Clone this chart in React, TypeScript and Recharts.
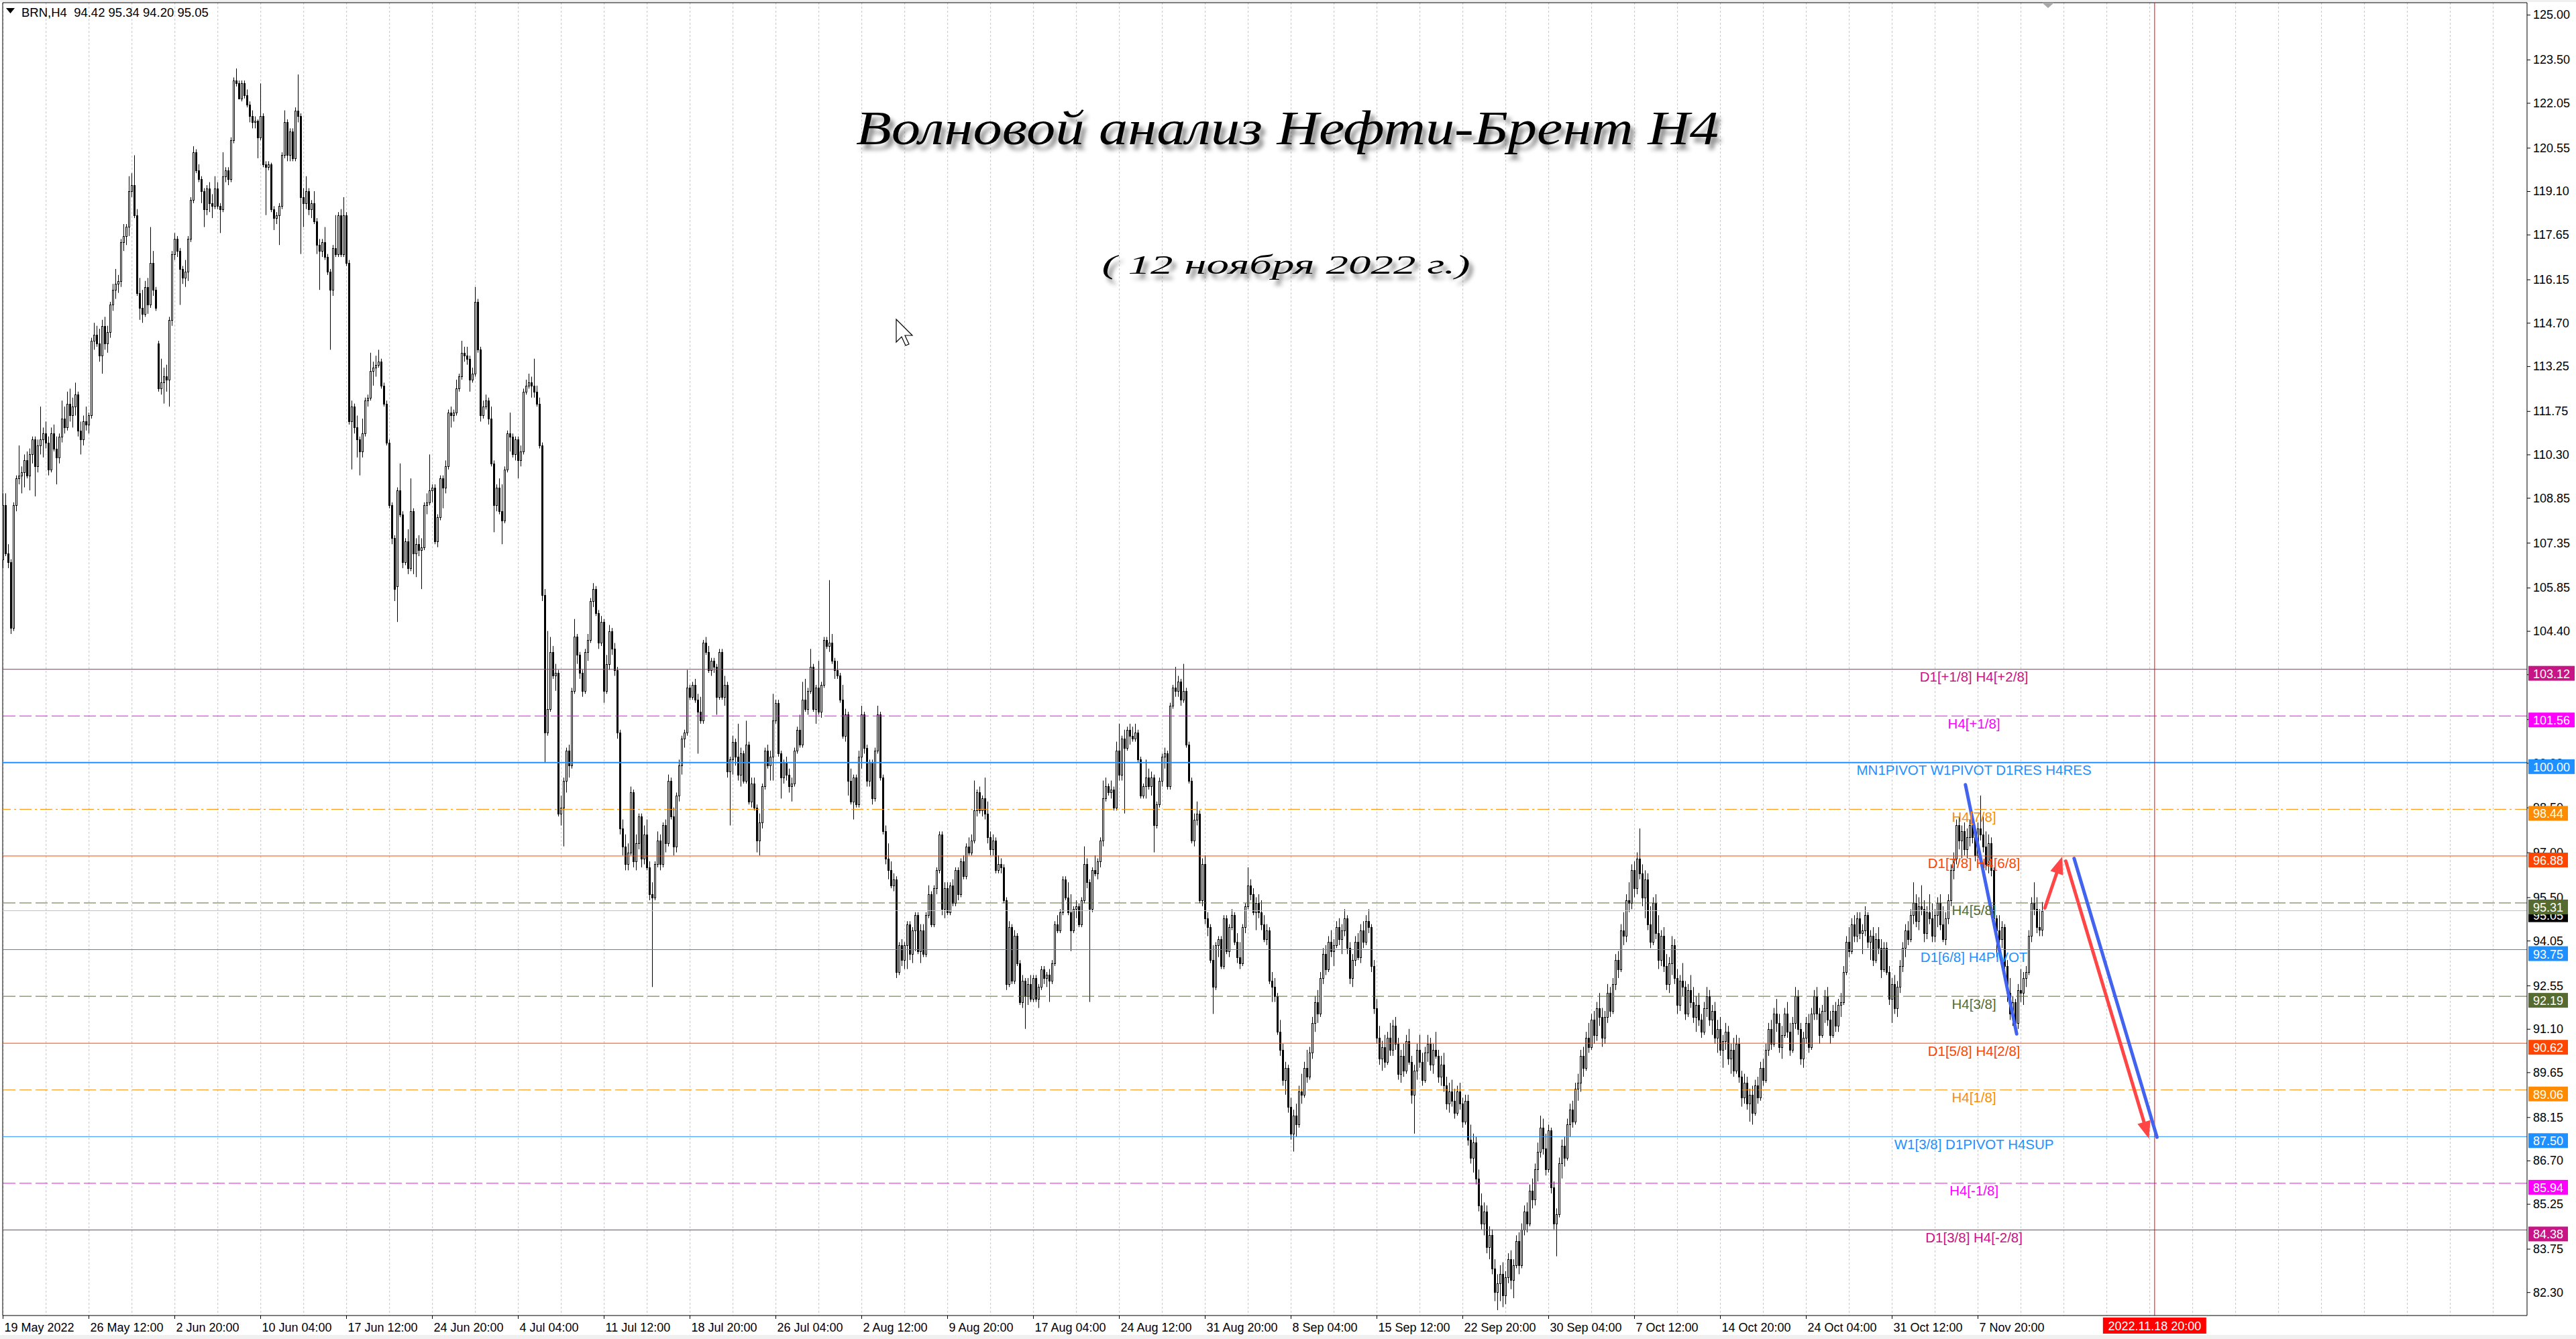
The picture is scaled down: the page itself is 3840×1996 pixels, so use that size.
import React from "react";
import { ComposedChart, Bar, XAxis, YAxis, CartesianGrid, ReferenceLine, ReferenceDot } from "recharts";

// ---------------- data: BRN H4 candles [open, high, low, close] ----------------
const ohlcMayJun: number[][] = [
  [106.8,109.0,106.5,108.6],[108.6,109.0,106.9,107.0],[107.0,107.3,106.5,106.7],[106.7,106.8,104.3,104.5],[104.5,108.7,104.4,108.6],
  [108.6,109.6,108.4,109.5],[109.5,110.6,109.3,109.6],[109.6,109.9,109.0,109.7],[109.7,110.3,109.2,110.1],[110.1,110.4,109.5,109.6],
  [109.6,110.5,109.1,110.3],[110.3,110.9,110.0,110.8],[110.8,110.9,108.9,109.9],[109.9,110.8,109.7,110.6],[110.6,111.9,110.3,110.8],
  [110.8,111.2,110.2,111.0],[111.0,111.4,110.5,110.7],[110.7,110.9,109.6,109.8],[109.8,111.2,109.7,111.0],[111.0,111.3,110.4,110.5],
  [110.5,110.9,109.3,110.2],[110.2,111.0,110.0,110.9],[110.9,112.1,110.7,111.5],[111.5,111.9,111.0,111.2],[111.2,112.4,111.1,112.0],
  [112.0,112.5,111.4,111.6],[111.6,112.2,111.2,111.9],[111.9,112.7,111.6,112.3],[112.3,112.4,110.9,111.1],[111.1,111.4,110.3,110.8],
  [110.8,111.6,110.6,111.4],[111.4,111.9,111.1,111.3],[111.3,111.7,111.0,111.6],[111.6,114.2,111.5,114.1],[114.1,114.7,113.8,114.3],
  [114.3,114.6,113.9,114.0],[114.0,114.5,113.4,113.6],[113.6,114.8,113.0,114.6],[114.6,114.9,113.8,114.0],[114.0,114.6,113.7,114.4],
  [114.4,115.4,114.2,115.3],[115.3,116.0,115.1,115.8],[115.8,116.5,115.5,116.0],[116.0,116.3,115.7,116.1],[116.1,117.5,115.9,117.4],
  [117.4,118.0,117.1,117.6],[117.6,118.0,117.3,117.9],[117.9,119.6,117.6,119.1],[119.1,119.7,118.9,119.3],[119.3,120.3,118.2,118.3],
  [118.3,118.5,115.6,115.7],[115.7,116.2,114.8,115.2],[115.2,115.8,114.7,115.0],[115.0,116.1,114.9,115.9],[115.9,116.2,115.0,115.3],
  [115.3,117.9,115.2,116.7],[116.7,117.1,115.6,115.8],[115.8,115.9,115.1,115.2],[114.0,114.1,112.4,112.5],[112.5,113.5,112.3,112.7],
  [112.7,113.2,112.0,112.9],[112.9,113.3,112.4,112.8],[112.8,114.9,111.9,114.8],[114.8,117.1,114.6,117.0],[117.0,117.7,116.8,117.5],
  [117.5,117.6,116.9,117.1],[117.1,117.2,115.3,116.5],[116.5,116.6,116.0,116.2],[116.2,116.8,115.9,116.4],[116.4,117.6,116.1,117.5],
  [117.5,118.9,117.4,118.8],[118.8,120.6,118.7,120.4],[120.4,120.5,119.7,119.8],[119.8,120.0,119.4,119.5],[119.5,119.6,118.7,119.1],
  [119.1,119.2,117.9,118.5],[118.5,119.3,118.3,119.2],[119.2,119.4,118.4,118.7],[118.7,119.0,118.2,118.6],[118.6,119.6,118.5,119.2],
  [119.2,119.4,118.5,118.6],[118.6,118.7,117.7,118.5],[118.5,120.4,118.4,119.6],[119.6,119.9,119.4,119.8],[119.8,119.9,119.3,119.5],
  [119.5,120.9,119.4,120.8],[120.8,122.9,120.7,122.8],[122.8,123.2,122.6,122.7],[122.7,122.8,122.2,122.2],[122.2,122.8,122.1,122.7],
  [122.7,122.8,122.2,122.3],[122.3,122.5,121.9,122.0],[122.0,122.1,121.4,121.6],[121.6,121.8,121.2,121.4],[121.4,121.6,121.2,121.45],
  [121.45,121.5,120.2,120.9],[120.9,122.7,120.8,121.6],[121.6,121.7,119.9,120.0],[120.0,120.1,118.3,119.9],[119.9,120.1,119.8,120.0],
  [120.0,120.05,118.4,118.5],[118.5,118.6,117.8,118.2],[118.2,118.4,118.0,118.3],[118.3,118.7,117.3,118.6],[118.6,120.4,118.5,120.3],
  [120.3,121.8,120.2,121.4],[121.4,121.5,120.1,120.3],[120.3,121.2,120.1,121.1],[121.1,121.2,120.1,120.2],[120.2,121.9,120.1,121.8],
  [121.8,123.0,121.4,121.6],[121.6,121.7,117.0,118.9],[118.9,119.2,117.9,118.7],[118.7,119.6,118.5,119.1],[119.1,119.2,118.3,118.5],
  [118.5,118.8,118.2,118.7],[118.7,119.1,118.0,118.1],[118.1,118.2,117.0,117.3],[117.3,117.5,115.8,117.1],[117.1,117.5,116.9,117.4],
  [117.4,117.9,116.8,116.9],[116.9,117.0,116.3,116.4],[116.4,116.5,113.8,115.8],[115.8,117.3,115.6,117.2],[117.2,118.3,116.9,117.0],
  [117.0,118.4,116.9,118.3],[118.3,118.5,116.9,117.0],[117.0,118.9,116.9,118.3],[118.3,118.4,116.6,116.7],[116.7,116.8,111.3,111.4],
  [111.4,112.1,109.8,111.9],[111.9,112.0,111.0,111.2],[111.2,111.6,110.2,110.8],[110.8,110.9,109.6,110.4],[110.4,111.5,110.2,111.0],
  [111.0,112.2,110.9,112.1],[112.1,112.3,111.9,112.2],[112.2,113.7,112.1,113.1],[113.1,113.4,112.6,113.2],[113.2,113.6,112.9,113.3],
  [113.3,113.8,113.2,113.4],[113.4,113.5,112.5,112.6],[112.6,112.7,111.9,112.0],[112.0,112.1,110.6,110.7],[110.7,110.8,108.5,108.6],
  [108.6,108.7,107.3,107.5],[107.5,107.6,105.4,105.8],[105.9,109.2,104.7,109.1],[109.1,110.0,108.2,108.3],[108.3,108.4,106.5,106.7],
  [106.7,107.5,106.6,107.4],[107.4,107.8,106.3,106.5],[106.5,109.5,106.4,108.4],[108.4,108.5,106.3,107.0],[107.0,107.5,106.2,107.3],
  [107.3,107.6,106.9,107.1],[107.1,107.5,105.8,107.2],[107.2,108.7,107.1,108.6],[108.6,109.0,108.3,108.7],[108.7,110.3,108.6,109.1],
  [109.1,109.3,108.7,109.2],[109.2,109.3,107.3,107.4],[107.4,108.3,107.2,108.2],[108.2,109.6,108.1,109.5],[109.5,109.6,108.5,109.2],
  [109.2,110.1,109.0,109.9],[109.9,111.8,109.8,111.7],[111.7,111.9,111.2,111.6],[111.6,111.8,111.4,111.7],[111.7,112.8,111.6,112.5],
  [112.5,113.0,112.4,112.9],[112.9,114.1,112.8,113.7],[113.7,113.9,113.4,113.6],[113.6,113.9,113.3,113.5],[113.5,113.6,112.4,112.8],
  [112.8,113.2,112.7,113.0],[113.0,115.9,112.9,115.4],[115.4,115.5,113.7,113.8],[113.8,113.9,111.4,111.6],[111.6,112.1,111.5,111.9],
  [111.9,112.3,111.8,112.1],[112.1,112.2,111.3,111.5],[111.5,111.9,109.9,110.0],[110.0,110.1,107.7,108.6],[108.6,109.3,108.4,109.2],
  [109.2,109.5,108.3,108.4],[108.4,109.3,107.3,108.1],[108.1,109.9,108.0,109.8],[109.8,111.1,109.7,111.0],[111.0,111.7,110.4,110.9],
  [110.9,111.0,110.2,110.3],[110.3,110.9,110.1,110.8],[110.8,110.9,109.5,110.1],[110.1,110.6,109.9,110.4],[110.4,112.5,110.3,112.4],
  [112.4,112.8,112.3,112.6],[112.6,113.0,112.5,112.7],[112.7,112.9,112.2,112.6],[112.6,113.5,112.2,112.4],[112.4,112.6,111.9,112.0],
  [112.0,112.2,110.5,110.6],[110.6,110.7,105.4,105.6],[105.6,105.8,100.0,101.0],
];

const ohlcJulAug: number[][] = [
  [101.0,104.4,100.9,101.8],[101.8,104.2,101.7,103.7],[103.7,103.9,102.8,102.9],[102.9,103.3,102.4,103.0],[103.0,103.1,98.2,98.3],
  [98.3,98.9,97.9,98.5],[98.5,99.5,97.2,99.4],[99.4,100.5,99.0,100.4],[100.4,100.6,99.5,99.9],[99.9,102.5,99.8,102.4],
  [102.4,104.8,102.3,104.2],[104.2,104.3,103.3,103.6],[103.6,103.7,102.8,103.0],[103.0,103.1,102.2,102.4],[102.4,103.8,102.3,103.7],
  [103.7,104.3,103.4,104.1],[104.1,105.5,104.0,105.4],[105.4,106.0,105.2,105.8],[105.8,105.9,104.9,105.0],[105.0,105.1,103.8,104.0],
  [104.0,104.9,103.9,104.7],[104.7,104.8,102.0,102.4],[102.4,103.6,102.3,103.3],[103.3,104.6,103.1,104.4],[104.4,104.5,103.6,103.8],
  [103.8,104.0,102.9,103.1],[103.1,103.2,100.8,101.0],[101.0,101.1,97.6,97.8],[97.8,98.1,96.9,97.2],[97.2,97.6,96.4,96.6],
  [96.6,97.3,96.4,97.0],[97.0,99.2,96.9,99.0],[99.0,99.1,96.5,96.7],[96.7,97.6,96.4,97.3],[97.3,98.3,97.1,98.2],
  [98.2,98.3,96.5,96.8],[96.8,97.9,96.6,97.6],[97.6,98.1,96.4,96.5],[96.5,96.7,95.4,95.6],[95.6,96.0,92.5,95.5],
  [95.5,96.7,95.4,96.6],[96.6,97.7,96.5,97.4],[97.4,97.6,96.4,96.6],[96.6,98.0,96.5,97.9],[97.9,98.1,97.0,97.3],
  [97.3,99.6,97.2,99.4],[99.4,99.5,98.1,98.2],[98.2,98.5,96.9,97.2],[97.2,99.0,97.0,98.9],[98.9,100.1,98.7,99.9],
  [99.9,100.9,99.6,100.8],[100.8,101.1,100.5,101.0],[101.0,103.1,100.9,102.5],[102.5,102.6,102.1,102.2],[102.2,102.7,102.1,102.6],
  [102.6,102.8,102.0,102.1],[102.1,102.3,100.3,101.7],[101.7,102.2,101.3,101.4],[101.4,104.1,101.3,104.0],[104.0,104.2,103.6,103.7],
  [103.7,103.9,103.0,103.1],[103.1,103.5,102.9,103.4],[103.4,103.5,103.0,103.2],[103.2,103.3,101.6,102.2],[102.2,103.8,102.1,103.7],
  [103.7,103.8,102.1,102.2],[102.2,102.9,101.9,102.6],[102.6,102.7,99.5,99.7],[99.7,100.2,97.9,100.1],[100.1,100.9,99.6,100.7],
  [100.7,100.8,99.9,100.2],[100.2,101.3,99.4,99.6],[99.6,100.5,99.2,100.3],[100.3,100.4,99.3,99.4],[99.4,101.4,99.3,100.6],
  [100.6,100.7,98.6,98.7],[98.7,99.5,98.5,99.3],[99.3,99.5,98.4,98.5],[98.5,98.6,97.0,97.4],[97.4,98.3,96.9,98.0],
  [98.0,99.3,97.8,99.2],[99.2,100.5,99.1,100.4],[100.4,100.6,99.8,99.9],[99.9,100.4,99.4,100.2],[100.2,102.3,99.4,101.4],
  [101.4,102.1,101.3,102.0],[102.0,102.1,100.2,100.3],[100.3,100.4,98.8,99.5],[99.5,100.1,99.3,100.0],[100.0,100.2,99.4,99.6],
  [99.6,99.8,99.0,99.2],[99.2,99.5,98.7,99.3],[99.3,100.5,99.2,100.4],[100.4,101.2,100.3,101.1],[101.1,101.6,100.5,100.6],
  [100.6,102.7,100.5,102.1],[102.1,102.8,101.7,101.8],[101.8,102.5,101.6,102.4],[102.4,103.8,102.3,103.2],[103.2,103.3,101.7,101.8],
  [101.8,102.6,101.3,102.5],[102.5,103.4,101.6,101.7],[101.7,102.7,101.5,102.6],[102.6,104.2,102.5,104.1],[104.1,104.2,103.8,103.9],
  [103.9,106.1,103.7,104.0],[104.0,104.3,103.3,103.4],[103.4,103.5,102.8,103.1],[103.1,103.4,102.8,102.9],[102.9,103.0,102.0,102.1],
  [102.1,102.6,100.8,100.9],[100.9,101.8,100.7,101.6],[101.6,101.7,98.9,99.4],[99.4,99.8,98.6,98.7],[98.7,99.6,98.1,99.5],
  [99.5,99.6,98.5,98.6],[98.6,100.4,98.5,100.2],[100.2,101.9,99.8,101.6],[101.6,101.7,100.3,100.5],[100.5,100.6,99.2,99.4],
  [99.4,100.1,99.2,100.0],[100.0,100.1,98.6,98.8],[98.8,100.5,98.7,100.4],[100.4,101.9,100.3,101.6],[101.6,101.7,99.4,99.5],
  [99.5,99.6,97.6,97.7],[97.7,97.9,96.6,96.8],[96.8,97.3,96.1,96.4],[96.4,96.7,95.8,95.9],[95.9,96.3,95.7,96.1],
  [96.1,96.2,92.8,93.0],[93.0,94.0,92.9,93.9],[93.9,94.1,93.2,93.4],[93.4,94.0,93.1,93.9],[93.9,94.7,93.1,94.6],
  [94.6,94.7,93.4,93.6],[93.6,94.5,93.3,94.4],[94.4,95.0,93.7,94.9],[94.9,95.0,93.6,93.7],[93.7,94.6,93.3,94.4],
  [94.4,94.6,93.5,93.6],[93.6,95.0,93.5,94.9],[94.9,95.9,94.8,95.6],[95.6,95.7,94.5,94.6],[94.6,95.9,94.5,95.8],
  [95.8,96.5,95.6,96.4],[96.4,97.7,96.3,97.6],[97.6,97.7,94.9,95.1],[95.1,96.0,94.8,95.8],[95.8,96.0,94.9,95.0],
  [95.0,96.0,94.9,95.9],[95.9,96.1,95.2,95.3],[95.3,96.5,95.2,96.4],[96.4,96.5,95.4,95.6],[95.6,96.8,95.5,96.7],
  [96.7,96.9,96.1,96.2],[96.2,97.3,96.1,97.2],[97.2,97.5,96.9,97.0],[97.0,97.6,96.9,97.4],[97.4,99.4,97.3,98.4],
  [98.4,99.1,98.2,99.0],[99.0,99.2,98.3,98.4],[98.4,98.9,98.2,98.8],[98.8,99.5,98.1,98.3],[98.3,98.7,97.3,97.5],
  [97.5,97.7,96.9,97.1],[97.1,97.6,96.9,97.4],[97.4,97.5,96.3,96.4],[96.4,96.9,96.3,96.6],[96.6,96.8,96.3,96.5],
  [96.5,96.6,95.3,95.4],[95.4,95.5,92.4,92.6],[92.6,94.7,92.5,94.5],[94.5,94.6,92.6,92.7],[92.7,94.4,92.6,94.2],
  [94.2,94.3,93.2,93.3],[93.3,93.4,91.9,92.0],[92.0,92.9,91.8,92.7],[92.7,92.8,91.1,92.2],[92.2,92.8,91.9,92.6],
  [92.6,92.9,92.0,92.1],[92.1,92.9,92.0,92.8],[92.8,92.9,92.0,92.1],[92.1,92.6,91.8,92.5],[92.5,93.2,92.4,93.1],
  [93.1,93.2,92.6,92.8],[92.8,93.0,92.5,92.9],[92.9,93.1,92.0,92.7],[92.7,93.4,92.6,93.3],[93.3,94.7,93.2,94.6],
  [94.6,94.9,94.3,94.4],[94.4,95.1,94.3,95.0],[95.0,96.2,94.9,96.1],[96.1,96.2,95.4,95.5],[95.5,96.0,94.9,95.0],
  [95.0,95.6,93.7,94.4],[94.4,95.2,94.3,95.1],[95.1,95.4,94.8,95.2],[95.2,95.3,94.5,94.6],[94.6,95.5,94.5,95.4],
  [95.4,97.2,95.3,96.6],[96.6,96.8,95.8,96.0],[96.0,96.1,92.0,95.1],[95.1,96.5,95.0,96.4],[96.4,96.9,96.2,96.3],
  [96.3,96.8,96.1,96.7],[96.7,97.5,96.5,97.4],[97.4,99.4,97.2,98.8],[98.8,99.5,98.7,99.2],[99.2,99.3,98.9,99.0],
  [99.0,99.4,98.8,99.1],[99.1,99.2,98.4,98.5],[98.5,100.7,98.4,100.4],[100.4,101.3,99.4,99.6],[99.6,100.9,99.4,100.8],
  [100.8,101.1,98.3,100.5],[100.5,101.2,100.4,101.1],[101.1,101.3,100.6,100.9],[100.9,101.2,100.7,100.8],[100.8,101.3,100.7,101.0],
  [101.0,101.1,100.0,100.1],[100.1,100.2,98.8,98.9],[98.9,99.3,98.8,99.2],[99.2,100.1,98.8,99.5],[99.5,99.8,99.1,99.2],
  [99.2,99.7,98.9,99.5],[99.5,99.6,97.0,97.9],[97.9,98.7,97.8,98.6],[98.6,99.5,98.5,99.4],[99.4,100.3,99.2,100.2],
  [100.2,100.5,99.8,100.3],[100.3,100.4,99.1,99.2],[99.2,102.0,99.1,101.9],[101.9,102.6,101.8,102.5],[102.5,103.2,102.2,102.4],
  [102.4,102.9,102.2,102.7],[102.7,102.8,101.9,102.1],[102.1,103.3,102.0,102.4],[102.4,102.5,100.5,100.6],[100.6,100.7,99.3,99.4],
  [99.4,99.5,97.3,97.4],[97.4,98.3,97.2,98.1],[98.1,98.7,97.9,98.3],[98.3,98.4,95.3,95.4],[95.4,96.8,95.2,96.6],
  [96.6,96.9,94.6,94.8],[94.8,95.0,94.2,94.5],[94.5,94.6,93.3,93.4],[93.4,93.9,91.6,92.5],[92.5,94.0,92.4,93.9],
  [93.9,94.2,93.5,94.1],[94.1,94.2,93.1,93.2],[93.2,94.9,93.1,94.8],[94.8,94.9,93.6,93.7],[93.7,94.6,93.5,94.5],
  [94.5,95.1,94.4,94.9],[94.9,95.0,93.9,94.0],[94.0,94.3,93.3,93.5],[93.5,94.0,93.1,93.3],[93.3,94.6,93.2,94.5],
  [94.5,95.3,94.3,95.2],[95.2,96.5,95.1,95.9],[95.9,96.1,95.4,95.6],[95.6,95.8,94.9,95.0],[95.0,95.5,94.4,95.3],
  [95.3,95.6,94.8,95.0],[95.0,95.4,94.4,94.6],[94.6,94.9,94.0,94.1],[94.1,94.6,93.9,94.4],[94.4,94.5,92.6,92.7],
  [92.7,93.0,92.0,92.5],[92.5,92.8,92.0,92.2],
];

const ohlcSepNov: number[][] = [
  [92.2,92.3,90.9,91.0],[91.0,91.4,90.2,90.4],[90.4,90.6,89.2,89.4],[89.4,90.0,88.9,89.8],[89.8,89.9,88.3,88.5],
  [88.5,88.8,87.4,87.6],[87.6,88.4,87.0,88.2],[88.2,88.6,87.5,87.9],[87.9,89.2,87.8,89.0],[89.0,89.6,88.6,88.9],
  [88.9,90.0,88.8,89.8],[89.8,90.4,89.3,89.5],[89.5,90.5,89.4,90.3],[90.3,91.5,90.1,91.3],[91.3,92.2,91.0,92.0],
  [92.0,92.4,91.3,91.6],[91.6,93.0,91.5,92.8],[92.8,93.8,92.6,93.6],[93.6,93.9,92.9,93.1],[93.1,94.2,93.0,94.0],
  [94.0,94.4,93.5,93.7],[93.7,94.1,93.2,93.9],[93.9,94.7,93.8,94.5],[94.5,94.8,93.9,94.1],[94.1,94.6,93.6,94.4],
  [94.4,95.1,94.2,94.8],[94.8,94.9,93.6,93.8],[93.8,94.0,92.6,92.8],[92.8,93.6,92.5,93.4],[93.4,94.2,93.2,94.0],
  [94.0,94.3,93.4,93.5],[93.5,94.6,93.3,94.4],[94.4,94.7,93.8,94.0],[94.0,94.9,93.9,94.7],[94.7,95.1,94.3,94.5],
  [94.5,94.6,93.0,93.2],[93.2,93.4,91.6,91.8],[91.8,92.1,90.6,90.8],[90.8,91.2,89.9,90.1],[90.1,90.7,89.7,90.5],
  [90.5,90.9,89.8,90.0],[90.0,91.0,89.9,90.8],[90.8,91.3,90.2,90.4],[90.4,91.4,90.2,91.2],[91.2,91.5,90.4,90.6],
  [90.6,90.8,89.4,89.6],[89.6,90.4,89.3,90.2],[90.2,90.6,89.5,89.7],[89.7,90.9,89.6,90.7],[90.7,91.1,89.9,90.0],
  [90.0,90.2,88.6,88.9],[88.9,89.9,87.6,89.7],[89.7,90.6,89.4,90.4],[90.4,90.9,89.8,90.0],[90.0,90.3,89.2,89.4],
  [89.4,90.5,89.3,90.3],[90.3,90.9,90.0,90.6],[90.6,90.8,89.7,89.9],[89.9,90.6,89.6,90.4],[90.4,91.0,90.1,90.2],
  [90.2,90.4,89.3,89.5],[89.5,90.2,89.2,89.9],[89.9,90.3,89.0,89.2],[89.2,89.5,88.4,88.6],[88.6,89.3,88.3,89.0],
  [89.0,89.4,88.5,88.7],[88.7,89.1,88.1,88.3],[88.3,89.2,88.2,89.0],[89.0,89.3,88.4,88.6],[88.6,88.8,87.8,88.0],
  [88.0,88.9,87.9,88.7],[88.7,88.9,87.2,87.4],[87.4,87.9,86.6,86.8],[86.8,87.6,86.3,87.3],[87.3,87.5,85.9,86.1],
  [86.1,86.4,85.0,85.2],[85.2,85.6,84.4,84.6],[84.6,85.3,84.2,85.0],[85.0,85.2,83.6,83.8],[83.8,84.5,83.4,84.2],
  [84.2,84.4,82.9,83.1],[83.1,83.4,82.0,82.3],[82.3,82.9,81.7,82.6],[82.6,83.2,82.0,82.9],[82.9,83.3,81.8,82.2],
  [82.2,83.0,81.9,82.8],[82.8,83.6,82.6,83.4],[83.4,83.7,82.4,82.7],[82.7,83.4,82.1,83.2],[83.2,84.2,83.1,84.0],
  [84.0,84.3,82.9,83.2],[83.2,84.6,83.1,84.4],[84.4,85.2,84.2,85.0],[85.0,85.3,84.3,84.6],[84.6,85.9,84.5,85.7],
  [85.7,86.1,85.1,85.4],[85.4,86.6,85.2,86.4],[86.4,87.3,86.0,87.0],[87.0,88.2,86.8,87.8],[87.8,88.1,86.9,87.1],
  [87.1,87.6,86.2,86.4],[86.4,87.9,86.3,87.7],[87.7,87.8,85.6,85.8],[85.8,86.0,84.4,84.6],[84.6,85.1,83.5,84.9],
  [84.9,86.8,84.8,86.6],[86.6,87.4,86.1,87.2],[87.2,87.5,86.5,86.8],[86.8,88.1,86.7,87.9],[87.9,88.6,87.5,88.4],
  [88.4,88.7,87.8,88.0],[88.0,89.3,87.9,89.1],[89.1,89.6,88.7,89.3],[89.3,90.4,89.0,90.2],[90.2,90.5,89.5,89.8],
  [89.8,91.0,89.7,90.8],[90.8,91.3,90.3,90.5],[90.5,91.6,90.4,91.4],[91.4,91.7,90.6,90.9],[90.9,92.0,90.7,91.8],
  [91.8,92.3,91.2,91.5],[91.5,91.8,90.5,90.8],[90.8,91.7,90.6,91.5],[91.5,92.6,91.3,92.3],[92.3,92.5,91.5,91.7],
  [91.7,92.8,91.6,92.6],[92.6,93.6,92.4,93.4],[93.4,93.7,92.8,93.1],[93.1,94.6,93.0,94.4],[94.4,95.0,93.9,94.2],
  [94.2,95.6,94.0,95.4],[95.4,96.0,95.0,95.3],[95.3,96.6,95.1,96.4],[96.4,96.7,95.5,95.8],[95.8,97.0,95.6,96.8],
  [96.8,97.8,96.1,96.3],[96.3,96.6,95.2,95.5],[95.5,96.4,94.8,96.1],[96.1,96.3,94.4,94.6],[94.6,95.2,93.8,94.0],
  [94.0,95.5,93.9,95.3],[95.3,95.6,94.1,94.3],[94.3,94.9,93.1,93.4],[93.4,94.4,93.2,94.2],[94.2,94.5,93.0,93.2],
  [93.2,93.6,92.4,92.6],[92.6,93.5,92.3,93.3],[93.3,94.2,92.9,93.9],[93.9,94.1,92.6,92.8],[92.8,93.1,91.6,91.9],
  [91.9,92.9,91.7,92.7],[92.7,93.3,92.2,92.5],[92.5,92.7,91.4,91.6],[91.6,92.6,91.5,92.4],[92.4,92.9,91.8,92.0],
  [92.0,92.5,91.3,91.5],[91.5,92.2,91.0,91.9],[91.9,92.3,91.2,91.4],[91.4,91.6,90.8,91.0],[91.0,92.0,90.9,91.8],
  [91.8,92.5,91.5,92.2],[92.2,92.4,91.2,91.4],[91.4,91.9,90.9,91.7],[91.7,92.0,90.6,90.8],[90.8,91.4,90.3,91.1],
  [91.1,91.5,90.2,90.4],[90.4,90.9,89.8,90.7],[90.7,91.3,90.4,91.0],[91.0,91.2,89.9,90.1],[90.1,90.6,89.6,90.4],
  [90.4,90.8,89.5,89.7],[89.7,90.9,89.6,90.6],[90.6,90.8,89.3,89.5],[89.5,89.7,88.5,88.8],[88.8,89.6,88.6,89.3],
  [89.3,89.5,88.4,88.6],[88.6,89.1,88.0,88.9],[88.9,89.2,87.9,88.3],[88.3,89.4,88.2,89.2],[89.2,89.5,88.6,88.8],
  [88.8,90.0,88.7,89.8],[89.8,90.1,89.2,89.4],[89.4,90.6,89.3,90.4],[90.4,91.3,90.2,91.1],[91.1,91.4,90.4,90.6],
  [90.6,91.8,90.5,91.6],[91.6,92.1,91.0,91.3],[91.3,91.6,90.3,90.5],[90.5,91.2,90.1,90.9],[90.9,91.8,90.8,91.6],
  [91.6,92.0,90.8,91.0],[91.0,91.3,90.2,90.4],[90.4,91.5,90.3,91.3],[91.3,92.5,91.1,92.2],[92.2,92.4,90.9,91.1],
  [91.1,91.3,89.9,90.1],[90.1,91.0,89.8,90.8],[90.8,91.5,90.6,91.3],[91.3,91.6,90.3,90.5],[90.5,91.8,90.4,91.6],
  [91.6,92.4,91.4,92.2],[92.2,92.5,91.4,91.6],[91.6,91.8,90.6,90.9],[90.9,91.9,90.8,91.7],[91.7,92.4,91.3,92.2],
  [92.2,92.5,91.2,91.4],[91.4,91.7,90.6,90.9],[90.9,91.9,90.8,91.7],[91.7,92.0,91.0,91.2],[91.2,92.1,91.0,91.9],
  [91.9,92.3,91.5,92.0],[92.0,93.2,91.9,93.0],[93.0,94.2,92.9,94.0],[94.0,94.5,93.5,93.7],[93.7,94.8,93.6,94.6],
  [94.6,94.9,94.0,94.2],[94.2,95.0,94.0,94.8],[94.8,95.0,94.1,94.3],[94.3,94.6,93.6,94.4],[94.4,95.2,94.2,94.9],
  [94.9,95.0,93.8,94.0],[94.0,94.4,93.4,94.2],[94.2,94.5,93.2,93.4],[93.4,94.3,93.3,94.1],[94.1,94.5,93.6,93.8],
  [93.8,94.1,92.8,93.1],[93.1,94.0,93.0,93.8],[93.8,94.0,92.9,93.0],[93.0,93.2,91.9,92.1],[92.1,92.8,91.3,92.6],
  [92.6,92.9,91.6,91.8],[91.8,92.7,91.5,92.5],[92.5,93.4,92.3,93.2],[93.2,94.0,93.0,93.8],[93.8,94.6,93.5,94.4],
  [94.4,94.7,93.9,94.1],[94.1,95.1,94.0,94.9],[94.9,96.0,94.6,95.3],[95.3,95.6,94.5,94.7],[94.7,95.5,94.4,95.2],
  [95.2,95.9,94.9,95.1],[95.1,95.4,94.0,94.3],[94.3,95.2,94.1,95.0],[95.0,95.6,94.6,94.8],[94.8,95.3,94.0,94.2],
  [94.2,95.1,94.0,94.9],[94.9,95.5,94.5,95.3],[95.3,95.6,94.4,94.6],[94.6,95.2,94.0,94.1],[94.1,95.0,93.9,94.8],
  [94.8,95.6,94.6,95.4],[95.4,96.6,95.2,96.4],[96.4,97.0,96.1,96.8],[96.8,98.1,96.6,97.9],[97.9,98.2,97.1,97.4],
  [97.4,97.9,96.8,97.7],[97.7,98.0,96.9,97.1],[97.1,97.8,96.8,97.5],[97.5,98.1,97.2,97.9],[97.9,98.2,97.3,97.5],
  [97.5,97.8,96.7,96.9],[96.9,98.0,96.8,97.8],[97.8,98.9,97.4,97.6],[97.6,98.2,97.0,97.2],[97.2,97.7,96.4,96.6],
  [96.6,97.6,96.3,97.3],[97.3,97.5,96.2,96.4],[96.4,96.5,94.6,94.8],[94.8,94.9,93.5,94.4],[94.4,94.9,93.9,94.1],
  [94.1,94.7,93.8,94.5],[94.5,94.6,93.0,93.2],[93.2,93.4,92.0,92.3],[92.3,92.8,91.4,91.6],[91.6,92.2,91.2,92.0],
  [92.0,92.1,91.0,91.3],[91.3,92.6,91.1,92.4],[92.4,93.1,92.0,92.3],[92.3,93.0,91.9,92.8],[92.8,93.2,92.5,93.0],
  [93.0,94.4,92.9,94.2],[94.2,95.5,94.0,95.3],[95.3,96.0,94.9,95.1],[95.1,95.5,94.3,94.5],[94.5,95.1,94.2,94.42],
  [94.42,95.34,94.20,95.05],
];

// ---------------- axis labels ----------------
const timeLabels = [
  "19 May 2022", "26 May 12:00", "2 Jun 20:00", "10 Jun 04:00", "17 Jun 12:00", "24 Jun 20:00", "4 Jul 04:00",
  "11 Jul 12:00", "18 Jul 20:00", "26 Jul 04:00", "2 Aug 12:00", "9 Aug 20:00", "17 Aug 04:00", "24 Aug 12:00",
  "31 Aug 20:00", "8 Sep 04:00", "15 Sep 12:00", "22 Sep 20:00", "30 Sep 04:00", "7 Oct 12:00", "14 Oct 20:00",
  "24 Oct 04:00", "31 Oct 12:00", "7 Nov 20:00",
];
const TIME_LABEL_EVERY = 32; // bars between time labels
const TIME_GRID_EVERY = 16; // bars between vertical grid lines

const priceLabels = [
  "125.00", "123.50", "122.05", "120.55", "119.10", "117.65", "116.15", "114.70", "113.25", "111.75",
  "110.30", "108.85", "107.35", "105.85", "104.40", "102.95", "101.45", "99.99", "98.50", "97.00",
  "95.50", "94.05", "92.55", "91.10", "89.65", "88.15", "86.70", "85.25", "83.75", "82.30",
];

// ---------------- Murrey / pivot levels ----------------
const levelPrices = [103.12, 101.56, 100.0, 98.44, 96.88, 95.31, 93.75, 92.19, 90.62, 89.06, 87.5, 85.94, 84.38];
const levelNames = [
  "D1[+1/8] H4[+2/8]", "H4[+1/8]", "MN1PIVOT W1PIVOT D1RES H4RES", "H4[7/8]", "D1[7/8] H4[6/8]", "H4[5/8]",
  "D1[6/8] H4PIVOT", "H4[3/8]", "D1[5/8] H4[2/8]", "H4[1/8]", "W1[3/8] D1PIVOT H4SUP", "H4[-1/8]", "D1[3/8] H4[-2/8]",
];
const levelColors = [
  "#C71585", "#FF00FF", "#1E90FF", "#FF8C00", "#FF4500", "#556B2F", "#1E90FF",
  "#556B2F", "#FF4500", "#FF8C00", "#1E90FF", "#FF00FF", "#C71585",
];
const levelDash = ["", "18 6", "", "18 5 3 5", "", "18 6", "", "18 6", "", "18 6", "", "18 6", ""];
const levelWidth = [1, 1, 2, 1, 1, 1, 1, 1, 1, 1, 1, 1, 1];
const LEVEL_LABEL_BAR = 734.5;

// ---------------- annotations (bar index, price) ----------------
const blueWaveShort = [{ x: 731.3, y: 99.26 }, { x: 750.4, y: 90.93 }];
const redArrowUp = [{ x: 760.9, y: 95.14 }, { x: 767.4, y: 96.86 }];
const redArrowDown = [{ x: 768.7, y: 96.71 }, { x: 799.7, y: 87.43 }];
const blueWaveLong = [{ x: 771.8, y: 96.8 }, { x: 802.7, y: 87.48 }];
const futureBar = 801.8;
const futureLabel = "2022.11.18 20:00";

// ---------------- layout ----------------
const W = 3840;
const H = 1996;
const X_DOMAIN: [number, number] = [-0.175, 940.6];
const Y_DOMAIN: [number, number] = [81.52, 125.4];
const FONT = "'Liberation Sans', Arial, sans-serif";

const bars = [...ohlcMayJun, ...ohlcJulAug, ...ohlcSepNov].map(([o, h, l, c], i) => ({
  i, o, h, l, c, range: [l, h],
}));
const lastBar = bars[bars.length - 1];
const bidPrice = lastBar.c;

const timeTicks = timeLabels.map((_, k) => k * TIME_LABEL_EVERY);
const gridX: number[] = [];
for (let v = 0; v <= X_DOMAIN[1]; v += TIME_GRID_EVERY) gridX.push(v);
const priceTicks = priceLabels.map((s) => parseFloat(s));

const textW = (s: string) => s.split("").reduce((a, ch) => a + (ch === "." || ch === ":" || ch === " " ? 5 : 10), 0);

function Candle(props: any) {
  const { x, y, width, height, payload } = props;
  if (!payload || !Number.isFinite(x) || !Number.isFinite(y) || !Number.isFinite(height)) return null;
  const { o, h, l, c } = payload;
  const top = Math.min(y, y + height);
  const span = Math.abs(height);
  const k = h > l ? span / (h - l) : 0;
  const n = Math.floor(x + width / 2);
  const cx = n + 0.5;
  const yO = top + (h - o) * k;
  const yC = top + (h - c) * k;
  const t = Math.round(Math.min(yO, yC));
  const b = Math.round(Math.max(yO, yC));
  let body;
  if (b - t < 1) {
    body = <line x1={n - 1} x2={n + 2} y1={t + 0.5} y2={t + 0.5} stroke="#000" strokeWidth={1} />;
  } else if (c > o) {
    body = <rect x={n - 0.5} y={t + 0.5} width={2} height={b - t} fill="#fff" stroke="#000" strokeWidth={1} />;
  } else {
    body = <rect x={n - 1} y={t} width={3} height={b - t + 1} fill="#000" />;
  }
  return (
    <g>
      <line x1={cx} x2={cx} y1={top} y2={top + span} stroke="#000" strokeWidth={1} />
      {body}
    </g>
  );
}

// colored price box on the right axis for a level line
function AxisBox(props: any) {
  const vb = props.viewBox;
  if (!vb) return null;
  const xr = vb.x + vb.width;
  const yy = vb.y;
  return (
    <g>
      <rect x={xr + 2} y={yy - 5} width={textW(props.text) + 14} height={22} fill={props.color} />
      <text x={xr + 9} y={yy + 13} fill="#fff" fontSize={18} fontFamily={FONT}>{props.text}</text>
    </g>
  );
}

// plain grid price label on the right axis
function GridPriceLabel(props: any) {
  const vb = props.viewBox;
  if (!vb) return null;
  const xr = vb.x + vb.width;
  const yy = vb.y;
  return (
    <g>
      <line x1={xr} x2={xr + 5} y1={yy + 0.5} y2={yy + 0.5} stroke="#000" strokeWidth={1} />
      <text x={xr + 9} y={yy + 6.5} fontSize={18} fontFamily={FONT} fill="#000">{props.text}</text>
    </g>
  );
}

function FutureBox(props: any) {
  const vb = props.viewBox;
  if (!vb) return null;
  const bottom = vb.y + vb.height;
  const w = 154;
  return (
    <g>
      <rect x={vb.x - w / 2} y={bottom + 3} width={w} height={24} fill="#FF0000" />
      <text x={vb.x} y={bottom + 22} textAnchor="middle" fill="#fff" fontSize={18} fontFamily={FONT}>{props.text}</text>
    </g>
  );
}

function TimeTick(props: any) {
  const { x, y, payload } = props;
  const k = Math.round(payload.value / TIME_LABEL_EVERY);
  const xx = Math.floor(x) + 0.5;
  return (
    <g>
      <line x1={xx} x2={xx} y1={y} y2={y + 5} stroke="#000" strokeWidth={1} />
      <text x={xx + 2} y={y + 24} fontSize={18} fontFamily={FONT} fill="#000">{timeLabels[k]}</text>
    </g>
  );
}

const arrowShape = (color: string, width: number, head: boolean) => (p: any) => {
  const { x1, y1, x2, y2 } = p;
  if (![x1, y1, x2, y2].every((v: number) => Number.isFinite(v))) return <g />;
  const dx = x2 - x1;
  const dy = y2 - y1;
  const len = Math.hypot(dx, dy) || 1;
  const ux = dx / len;
  const uy = dy / len;
  const hl = head ? 26 : 0;
  const hw = 10;
  const bx = x2 - ux * hl;
  const by = y2 - uy * hl;
  return (
    <g>
      <line x1={x1} y1={y1} x2={bx} y2={by} stroke={color} strokeWidth={width} strokeLinecap="round" />
      {head && (
        <polygon
          points={`${x2},${y2} ${bx - uy * hw},${by + ux * hw} ${bx + uy * hw},${by - ux * hw}`}
          fill={color}
        />
      )}
    </g>
  );
};

const levelText = (name: string, color: string) => (p: any) => (
  <text x={p.cx} y={p.cy + 18.5} textAnchor="middle" fill={color} fontSize={20.5} fontFamily={FONT}>
    {name}
  </text>
);

export default function App() {
  const header = `BRN,H4  ${lastBar.o.toFixed(2)} ${lastBar.h.toFixed(2)} ${lastBar.l.toFixed(2)} ${lastBar.c.toFixed(2)}`;
  return (
    <div style={{ position: "absolute", left: 0, top: 0, width: W, height: H, background: "#fff", overflow: "hidden" }}>
      <ComposedChart
        width={W}
        height={H}
        data={bars}
        margin={{ top: 4, right: 0, bottom: 0, left: 4 }}
      >
        <CartesianGrid stroke="#C4C4C4" strokeDasharray="3 3" horizontalValues={priceTicks} verticalValues={gridX} />
        <XAxis
          type="number"
          dataKey="i"
          domain={X_DOMAIN}
          allowDataOverflow
          ticks={timeTicks}
          interval={0}
          tick={<TimeTick />}
          tickLine={false}
          tickSize={0}
          tickMargin={0}
          height={35}
          axisLine={{ stroke: "#000" }}
        />
        <YAxis
          orientation="right"
          type="number"
          domain={Y_DOMAIN}
          allowDataOverflow
          ticks={priceTicks}
          interval={0}
          tick={false}
          tickLine={false}
          width={73}
          axisLine={{ stroke: "#000" }}
        />
        <ReferenceLine x={X_DOMAIN[0]} stroke="#000" strokeWidth={1} />
        <ReferenceLine y={Y_DOMAIN[1]} stroke="#000" strokeWidth={1} />

        {priceTicks.map((v, k) => (
          <ReferenceLine key={`gp-${k}`} y={v} stroke="none" label={<GridPriceLabel text={priceLabels[k]} />} />
        ))}

        <Bar dataKey="range" shape={Candle} isAnimationActive={false} barSize={3} />

        <ReferenceLine y={bidPrice} stroke="#C0C0C0" strokeWidth={1} label={<AxisBox text={bidPrice.toFixed(2)} color="#000" />} />
        {levelPrices.map((p, k) => (
          <ReferenceLine
            key={`lvl-${k}`}
            y={p}
            stroke={levelColors[k]}
            strokeWidth={levelWidth[k]}
            strokeDasharray={levelDash[k] || undefined}
            label={<AxisBox text={p.toFixed(2)} color={levelColors[k]} />}
          />
        ))}
        {levelPrices.map((p, k) => (
          <ReferenceDot
            key={`lbl-${k}`}
            x={LEVEL_LABEL_BAR}
            y={p}
            r={0}
            shape={levelText(levelNames[k], levelColors[k])}
          />
        ))}

        <ReferenceLine x={futureBar} stroke="#FF0000" strokeWidth={1} label={<FutureBox text={futureLabel} />} />

        <ReferenceLine segment={blueWaveShort} shape={arrowShape("#4262F0", 5, false)} ifOverflow="visible" />
        <ReferenceLine segment={redArrowUp} shape={arrowShape("#FF4545", 5, true)} ifOverflow="visible" />
        <ReferenceLine segment={redArrowDown} shape={arrowShape("#FF4545", 5, true)} ifOverflow="visible" />
        <ReferenceLine segment={blueWaveLong} shape={arrowShape("#4262F0", 5, false)} ifOverflow="visible" />
      </ComposedChart>

      <svg width={W} height={H} style={{ position: "absolute", left: 0, top: 0, pointerEvents: "none" }}>
        <defs>
          <filter id="titleShadow" x="-5%" y="-40%" width="110%" height="180%">
            <feDropShadow dx="6" dy="8" stdDeviation="3" floodColor="#000" floodOpacity="0.45" />
          </filter>
        </defs>
        <rect x={0} y={0} width={W} height={3} fill="#F0F0F0" />
        <rect x={0} y={1990} width={W} height={6} fill="#F0F0F0" />
        <polygon points="9,12 22,12 15.5,20" fill="#000" />
        <text x={32} y={25} fontSize={18.5} fontFamily={FONT} fill="#000" style={{ whiteSpace: "pre" }}>{header}</text>
        <polygon points="3044,4 3062,4 3053,12" fill="#A8A8A8" />
        <text
          x={1919}
          y={215}
          textAnchor="middle"
          fontFamily="'Liberation Serif', 'DejaVu Serif', serif"
          fontStyle="italic"
          fontSize={72}
          textLength={1286}
          lengthAdjust="spacingAndGlyphs"
          fill="#000"
          filter="url(#titleShadow)"
        >
          Волновой анализ Нефти-Брент Н4
        </text>
        <text
          x={1917}
          y={408}
          textAnchor="middle"
          fontFamily="'Liberation Serif', 'DejaVu Serif', serif"
          fontStyle="italic"
          fontSize={40}
          textLength={549}
          lengthAdjust="spacingAndGlyphs"
          fill="#000"
          filter="url(#titleShadow)"
        >
          ( 12 ноября 2022 г.)
        </text>
        <polygon
          points="1336,476 1336,510 1344,502 1350,515 1355,513 1349,500 1360,500"
          fill="#fff"
          stroke="#000"
          strokeWidth={1.2}
        />
      </svg>
    </div>
  );
}
